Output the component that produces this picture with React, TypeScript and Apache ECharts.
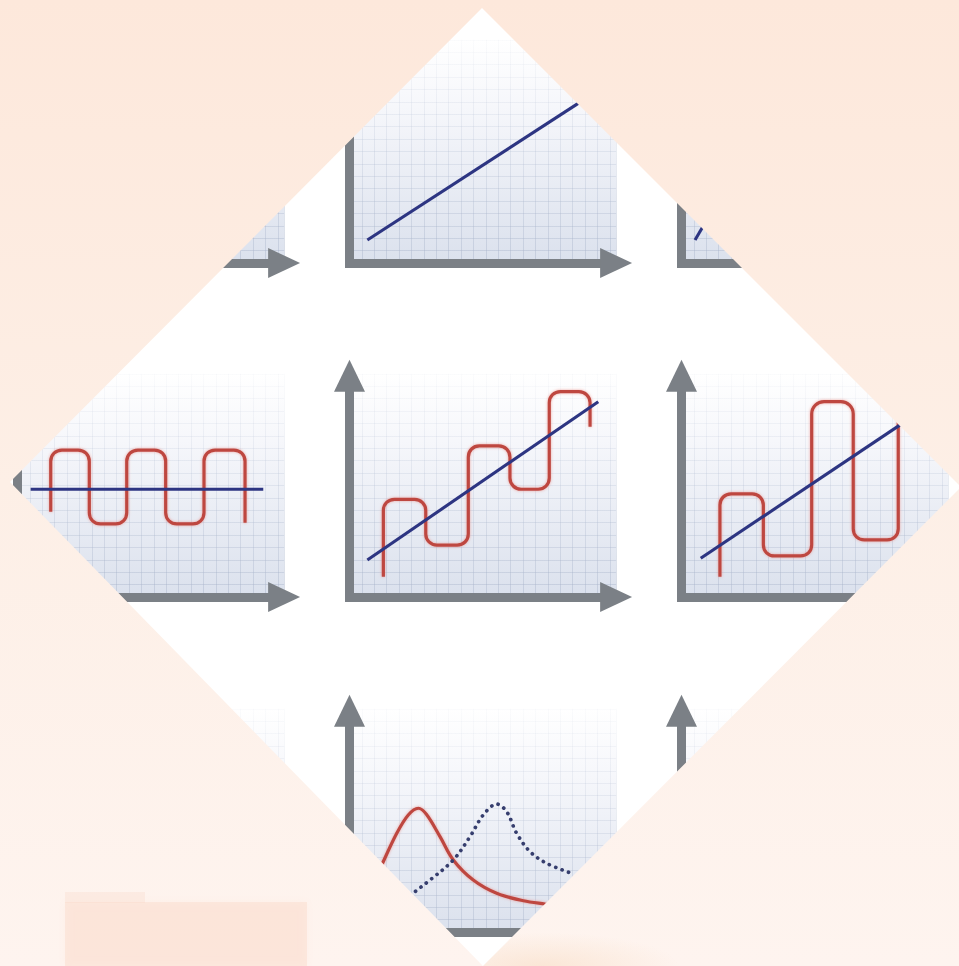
import React, { useEffect, useRef } from "react";
import * as echarts from "echarts";

// ---------- data (axis units: one grid cell = 1) ----------
const topCenterBlue = [[1.44, 1.85], [20.06, 13.92]];
const topRightBlue = [[1.09, 1.85], [10.0, 17.0]];

const leftBlue = [[1.06, 8.69], [19.82, 8.69]];
const leftRed = [
  [2.68, 6.88], [2.68, 10.95], [3.58, 11.85], [4.89, 11.85], [5.79, 10.95],
  [5.79, 6.79], [6.69, 5.89], [7.91, 5.89], [8.81, 6.79], [8.81, 10.95],
  [9.71, 11.85], [11.05, 11.85], [11.95, 10.95], [11.95, 6.79], [12.85, 5.89],
  [14.14, 5.89], [15.04, 6.79], [15.04, 10.95], [15.94, 11.85], [17.45, 11.85],
  [18.35, 10.95], [18.35, 5.99],
];

const centerBlue = [[1.44, 2.98], [20.06, 15.75]];
const centerRed = [
  [2.73, 1.64], [2.73, 6.98], [3.63, 7.88], [5.25, 7.88], [6.15, 6.98],
  [6.15, 5.09], [7.05, 4.19], [8.68, 4.19], [9.58, 5.09], [9.58, 11.28],
  [10.48, 12.18], [12.04, 12.18], [12.94, 11.28], [12.94, 9.59], [13.84, 8.69],
  [15.21, 8.69], [16.11, 9.59], [16.11, 15.66], [17.01, 16.56], [18.5, 16.56],
  [19.4, 15.66], [19.4, 13.73],
];

const rightBlue = [[1.55, 3.12], [19.5, 15.13]];
const rightRed = [
  [3.1, 1.64], [3.1, 7.41], [4.0, 8.31], [5.7, 8.31], [6.6, 7.41],
  [6.6, 4.21], [7.5, 3.31], [9.6, 3.31], [10.5, 4.21], [10.5, 14.75],
  [11.5, 15.75], [12.85, 15.75], [13.85, 14.75], [13.85, 5.5], [14.75, 4.6],
  [16.58, 4.6], [17.48, 5.5], [17.48, 14.14],
];

const bottomRed = [
  [1.98, 4.03], [2.6, 5.4], [3.81, 7.96], [4.74, 9.44], [5.55, 9.98],
  [6.2, 9.5], [7.3, 7.69], [8.37, 5.81], [9.98, 4.19], [11.87, 3.12],
  [14.02, 2.52], [15.77, 2.26], [18.19, 1.94],
];
const bottomBlueDotted = [
  [4.48, 2.58], [5.28, 3.25], [6.49, 4.19], [8.37, 5.81], [9.72, 7.69],
  [10.79, 9.44], [11.87, 10.32], [12.68, 9.7], [13.48, 7.96], [14.56, 6.48],
  [15.9, 5.54], [17.92, 4.73],
];

// ---------- layout ----------
const W = 959;
const H = 966;
const X_MAX = 21.5;
const Y_MAX = 18;
const CELL = 12.4;
const gridColumns = [17.5, 349.5, 681.5];
const gridBaselines = [263, 597, 932];

const RED = "#be463f";
const BLUE = "#2d3582";
const AXIS = "#7b8086";

export default function App() {
  const ref = useRef<HTMLDivElement>(null);

  useEffect(() => {
    if (!ref.current) return;
    const chart = echarts.init(ref.current, null, { renderer: "svg" });

    const grids: any[] = [];
    const xAxes: any[] = [];
    const yAxes: any[] = [];
    const panelFill = {
      type: "linear",
      x: 0, y: 0, x2: 0, y2: 1,
      colorStops: [
        { offset: 0, color: "#ffffff" },
        { offset: 0.3, color: "#f6f7fb" },
        { offset: 1, color: "#dbe1ed" },
      ],
    };
    gridBaselines.forEach((base) => {
      gridColumns.forEach((left) => {
        const gi = grids.length;
        const top = base - Y_MAX * CELL;
        const splitColor = {
          type: "linear",
          global: true,
          x: 0, y: top, x2: 0, y2: base,
          colorStops: [
            { offset: 0, color: "rgba(175,186,208,0.05)" },
            { offset: 0.4, color: "rgba(175,186,208,0.22)" },
            { offset: 1, color: "rgba(165,177,200,0.42)" },
          ],
        };
        grids.push({
          left,
          top,
          width: X_MAX * CELL,
          height: Y_MAX * CELL,
          show: true,
          backgroundColor: panelFill,
          borderWidth: 0,
          containLabel: false,
        });
        xAxes.push({
          gridIndex: gi,
          type: "value",
          min: 0,
          max: X_MAX,
          interval: 1,
          axisLabel: { show: false },
          axisTick: { show: false },
          splitLine: { show: true, lineStyle: { color: splitColor, width: 1 } },
          axisLine: {
            show: true,
            onZero: false,
            symbol: ["none", "triangle"],
            symbolSize: [30, 32],
            symbolOffset: [0, 0],
            lineStyle: { color: AXIS, width: 9, cap: "square" },
          },
          z: 3,
        });
        yAxes.push({
          gridIndex: gi,
          type: "value",
          min: 0,
          max: Y_MAX,
          interval: 1,
          axisLabel: { show: false },
          axisTick: { show: false },
          splitLine: { show: true, lineStyle: { color: splitColor, width: 1 } },
          axisLine: {
            show: true,
            onZero: false,
            symbol: ["none", "triangle"],
            symbolSize: [31, 32],
            symbolOffset: [0, -2],
            lineStyle: { color: AXIS, width: 9, cap: "square" },
          },
          z: 3,
        });
      });
    });

    const redStyle = {
      color: RED,
      width: 3.2,
      shadowBlur: 3,
      shadowColor: "rgba(232,135,128,0.7)",
    };
    const blueStyle = { color: BLUE, width: 3.1 };

    const line = (gi: number, data: number[][], lineStyle: any, smooth: any, z = 4) => ({
      type: "line",
      xAxisIndex: gi,
      yAxisIndex: gi,
      data,
      symbol: "none",
      showSymbol: false,
      smooth,
      lineStyle,
      itemStyle: { color: lineStyle.color },
      silent: true,
      z,
    });

    const series = [
      line(1, topCenterBlue, blueStyle, false),
      line(2, topRightBlue, blueStyle, false),
      line(3, leftRed, redStyle, 0.45),
      line(3, leftBlue, blueStyle, false, 5),
      line(4, centerRed, redStyle, 0.45),
      line(4, centerBlue, blueStyle, false, 5),
      line(5, rightRed, redStyle, 0.45),
      line(5, rightBlue, blueStyle, false, 5),
      line(7, bottomRed, redStyle, 0.35),
      line(
        7,
        bottomBlueDotted,
        { color: "#363e6e", width: 3.7, type: [0.1, 6.7], cap: "round" },
        0.35,
        5
      ),
    ];

    const overlayPoints = [
      [0, 482], [0, 0], [W, 0], [W, H], [0, H], [0, 482],
      [10, 482], [483, 966], [961, 487], [482, 8], [10, 482],
    ];

    chart.setOption({
      animation: false,
      backgroundColor: "#ffffff",
      grid: grids,
      xAxis: xAxes,
      yAxis: yAxes,
      series,
      graphic: [
        {
          type: "polygon",
          silent: true,
          z: 100,
          shape: { points: overlayPoints },
          style: {
            fill: new echarts.graphic.LinearGradient(0, 0, 0, 1, [
              { offset: 0, color: "#fde8db" },
              { offset: 0.5, color: "#fdefe6" },
              { offset: 1, color: "#fef4ef" },
            ]),
          },
        },
        {
          type: "rect",
          silent: true,
          z: 101,
          shape: { x: 65, y: 902, width: 242, height: 64 },
          style: {
            fill: "rgba(251,214,198,0.4)",
            shadowBlur: 8,
            shadowColor: "rgba(251,214,198,0.45)",
          },
        },
        {
          type: "rect",
          silent: true,
          z: 101,
          shape: { x: 65, y: 892, width: 80, height: 11 },
          style: { fill: "rgba(248,214,200,0.3)" },
        },
        {
          type: "polygon",
          silent: true,
          z: 101,
          shape: { points: [[531, 918], [680, 918], [680, 966], [483, 966]] },
          style: {
            fill: new echarts.graphic.RadialGradient(0.3, 1, 0.7, [
              { offset: 0, color: "rgba(244,205,168,0.35)" },
              { offset: 1, color: "rgba(244,205,168,0)" },
            ]),
          },
        },
      ],
    });

    return () => chart.dispose();
  }, []);

  return (
    <div
      ref={ref}
      style={{ position: "fixed", left: 0, top: 0, width: W, height: H }}
    />
  );
}
